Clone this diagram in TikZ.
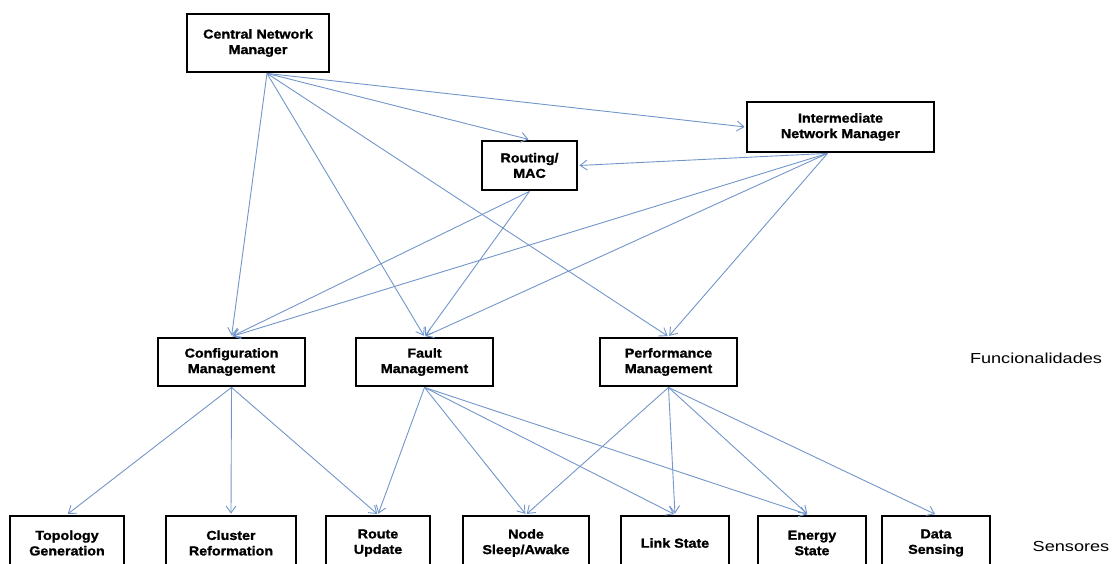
\documentclass[tikz,border=0pt]{standalone}
\usepackage{fontspec}
\setmainfont{Liberation Sans}
\newfontfamily\boxfont[FakeStretch=1.1,FakeBold=1.3]{Liberation Sans Bold}
\newfontfamily\labelfont[FakeStretch=1.25]{Liberation Sans}
\usetikzlibrary{arrows.meta}
\definecolor{linkblue}{RGB}{114,150,201}
\begin{document}
\begin{tikzpicture}[x=1pt,y=-1pt,
  box/.style={draw=black,line width=2.8pt,fill=white,align=center,inner sep=0pt,
    font=\boxfont\fontsize{13}{15.5}\selectfont},
  link/.style={draw=linkblue,line width=0.9pt,shorten >=1pt,
    -{Straight Barb[length=7pt,width=10pt]}},
  layer/.style={font=\labelfont\fontsize{14.5}{17}\selectfont}]
\useasboundingbox (0,0) rectangle (1115,563);
\clip (0,0) rectangle (1115,563);

% managers
\node[box,minimum width=142pt,minimum height=58pt] (cnm) at (258,43) {Central Network\\Manager};
\node[box,minimum width=95pt,minimum height=49pt] (rm) at (529.5,165.5) {Routing/\\MAC};
\node[box,minimum width=187pt,minimum height=50pt] (inm) at (840.5,127) {Intermediate\\Network Manager};

% functional areas
\node[box,minimum width=147pt,minimum height=48pt] (cfg) at (231.5,362) {Configuration\\Management};
\node[box,minimum width=137pt,minimum height=48pt] (flt) at (424.5,362) {Fault\\Management};
\node[box,minimum width=137pt,minimum height=48pt] (prf) at (668.5,362) {Performance\\Management};
\node[layer] (fun) at (1036,358) {Funcionalidades};

% sensor tasks
\node[box,minimum width=114pt,minimum height=54pt] (topo) at (67,543) {Topology\\Generation};
\node[box,minimum width=130pt,minimum height=54pt] (clus) at (231,543) {Cluster\\Reformation};
\node[box,minimum width=104pt,minimum height=54pt] (rup) at (378,543) {Route\\Update};
\node[box,minimum width=126pt,minimum height=54pt] (nsa) at (526,543) {Node\\Sleep/Awake};
\node[box,minimum width=108pt,minimum height=54pt] (lnk) at (675,543) {Link State};
\node[box,minimum width=108pt,minimum height=54pt] (ene) at (812,543) {Energy\\State};
\node[box,minimum width=108pt,minimum height=54pt] (dat) at (936,543) {Data\\Sensing};
\node[layer] (sen) at (1071,546) {Sensores};

% central manager links
\draw[link] ([xshift=9pt]cnm.south) -- (rm.north);
\draw[link] ([xshift=9pt]cnm.south) -- (inm.west);
\draw[link] ([xshift=9pt]cnm.south) -- (cfg.north);
\draw[link] ([xshift=9pt]cnm.south) -- (flt.north);
\draw[link] ([xshift=9pt]cnm.south) -- (prf.north);

% intermediate manager links
\draw[link] ([xshift=-13pt]inm.south) -- (rm.east);
\draw[link] ([xshift=-13pt]inm.south) -- (cfg.north);
\draw[link] ([xshift=-13pt]inm.south) -- (flt.north);
\draw[link] ([xshift=-13pt]inm.south) -- (prf.north);

% routing/MAC links
\draw[link] (rm.south) -- (cfg.north);
\draw[link] (rm.south) -- (flt.north);

% configuration management
\draw[link] (cfg.south) -- (topo.north);
\draw[link] (cfg.south) -- (clus.north);
\draw[link] (cfg.south) -- (rup.north);

% fault management
\draw[link] (flt.south) -- (rup.north);
\draw[link] (flt.south) -- (nsa.north);
\draw[link] (flt.south) -- (lnk.north);
\draw[link] (flt.south) -- ([xshift=-4pt]ene.north);

% performance management
\draw[link] (prf.south) -- (nsa.north);
\draw[link] (prf.south) -- (lnk.north);
\draw[link] (prf.south) -- ([xshift=-4pt]ene.north);
\draw[link] (prf.south) -- (dat.north);
\end{tikzpicture}
\end{document}
